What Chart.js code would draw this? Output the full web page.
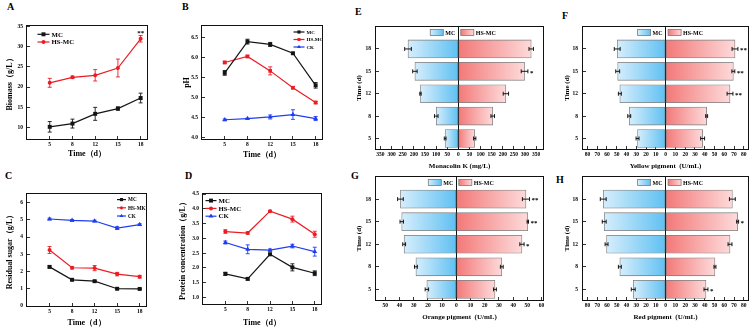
<!DOCTYPE html>
<html><head><meta charset="utf-8">
<script src="https://cdn.jsdelivr.net/npm/chart.js@4.4.0/dist/chart.umd.min.js"></script>
<style>
html,body{margin:0;padding:0;background:#fff;}
body{width:754px;height:330px;position:relative;overflow:hidden;}
canvas{position:absolute;}
.lt{position:absolute;font:bold 10px 'Liberation Serif',serif;line-height:10px;color:#000;}
</style></head><body>
<div class="lt" style="left:7px;top:2px">A</div>
<div class="lt" style="left:182px;top:2px">B</div>
<div class="lt" style="left:5px;top:171px">C</div>
<div class="lt" style="left:185px;top:171px">D</div>
<div class="lt" style="left:355px;top:7px">E</div>
<div class="lt" style="left:562px;top:11px">F</div>
<div class="lt" style="left:351px;top:171px">G</div>
<div class="lt" style="left:556px;top:175px">H</div>
<canvas id="cA" width="151" height="140" style="left:0px;top:22px"></canvas>
<canvas id="cB" width="144" height="140" style="left:182px;top:22px"></canvas>
<canvas id="cC" width="150" height="140" style="left:0px;top:190px"></canvas>
<canvas id="cD" width="147" height="140" style="left:178px;top:190px"></canvas>
<canvas id="cE" width="191" height="147" style="left:354px;top:25px"></canvas>
<canvas id="cF" width="189" height="147" style="left:561px;top:25px"></canvas>
<canvas id="cG" width="191" height="148" style="left:354px;top:175px"></canvas>
<canvas id="cH" width="189" height="148" style="left:561px;top:175px"></canvas>
<script>
// ---------- data ----------
const days = ['5', '8', '12', '15', '18'];

const biomassMC = [10.2, 11.0, 13.4, 14.7, 17.3];
const biomassMCErr = [1.3, 1.1, 1.6, 0.4, 1.2];
const biomassHS = [21.05, 22.4, 22.9, 24.7, 31.9];
const biomassHSErr = [1.1, 0.3, 1.4, 2.2, 0.8];
const biomassHSStars = ['', '', '', '', '**'];
const biomassTicks = [10, 15, 20, 25, 30, 35];

const phMC = [5.61, 6.39, 6.32, 6.10, 5.30];
const phMCErr = [0.06, 0.06, 0.05, 0.02, 0.07];
const phHS = [5.87, 6.02, 5.66, 5.24, 4.87];
const phHSErr = [0.03, 0.03, 0.10, 0.03, 0.03];
const phCK = [4.44, 4.47, 4.51, 4.57, 4.47];
const phCKErr = [0.02, 0.01, 0.05, 0.12, 0.05];
const phTicks = [4.0, 4.5, 5.0, 5.5, 6.0, 6.5];

const sugarMC = [2.27, 1.52, 1.44, 1.00, 0.99];
const sugarMCErr = [0.06, 0.04, 0.04, 0.03, 0.03];
const sugarHS = [3.25, 2.22, 2.20, 1.85, 1.70];
const sugarHSErr = [0.20, 0.07, 0.15, 0.10, 0.08];
const sugarCK = [5.05, 4.97, 4.93, 4.52, 4.72];
const sugarCKErr = [0.05, 0.05, 0.05, 0.08, 0.05];
const sugarTicks = [0, 1, 2, 3, 4, 5, 6];

const proteinMC = [1.80, 1.63, 2.46, 2.02, 1.82];
const proteinMCErr = [0.05, 0.04, 0.04, 0.12, 0.08];
const proteinHS = [3.23, 3.18, 3.92, 3.65, 3.14];
const proteinHSErr = [0.06, 0.04, 0.03, 0.10, 0.10];
const proteinCK = [2.86, 2.63, 2.60, 2.74, 2.55];
const proteinCKErr = [0.05, 0.15, 0.04, 0.06, 0.15];
const proteinTicks = [1.0, 1.5, 2.0, 2.5, 3.0, 3.5, 4.0, 4.5];

const monacolinMC = [59, 99, 170, 195, 226];
const monacolinMCErr = [4, 8, 3, 10, 15];
const monacolinHS = [74, 155, 214, 298, 328];
const monacolinHSErr = [5, 8, 12, 15, 10];
const monacolinHSStars = ['', '', '', '*', ''];
const monacolinTicks = [-350, -300, -250, -200, -150, -100, -50, 0, 50, 100, 150, 200, 250, 300, 350];

const yellowMC = [28.7, 37.2, 46.8, 49.0, 49.5];
const yellowMCErr = [1.5, 1.5, 1.5, 2, 3];
const yellowHS = [37.9, 42.0, 65.9, 69.3, 71.0];
const yellowHSErr = [2, 1, 3, 1.5, 3];
const yellowHSStars = ['', '', '**', '**', '**'];
const yellowTicks = [-80, -70, -60, -50, -40, -30, -20, -10, 0, 10, 20, 30, 40, 50, 60, 70, 80];

const orangeMC = [20.7, 28.4, 36.7, 38.4, 39.3];
const orangeMCErr = [1.2, 1, 1, 1.2, 2];
const orangeHS = [27.2, 32.0, 46.2, 50.3, 49.0];
const orangeHSErr = [1, 1, 1.5, 0.5, 2.5];
const orangeHSStars = ['', '', '*', '**', '**'];
const orangeTicks = [-50, -40, -30, -20, -10, 0, 10, 20, 30, 40, 50, 60];

const redMC = [33.1, 46.8, 60.4, 62.8, 63.8];
const redMCErr = [2, 1.5, 1.5, 2, 3];
const redHS = [41.3, 50.5, 65.9, 73.7, 68.3];
const redHSErr = [2, 1, 2, 1, 3];
const redHSStars = ['*', '', '', '*', ''];
const redTicks = [-80, -70, -60, -50, -40, -30, -20, -10, 0, 10, 20, 30, 40, 50, 60, 70, 80];

// ---------- style ----------
const SERIF = "'Liberation Serif', 'Times New Roman', serif";
const BLACK = '#151515', RED = '#ec1c24', BLUE = '#1f3df2';
const BLUE_DARK = '#5fc0f2', BLUE_LIGHT = '#d6eefc';
const RED_DARK = '#f37878', RED_LIGHT = '#fddada';
Chart.defaults.font.family = SERIF;
Chart.defaults.color = '#000';

function drawMarker(ctx, style, x, y, r, color) {
  ctx.fillStyle = color; ctx.beginPath();
  if (style === 'rect') { const s = r * Math.SQRT1_2; ctx.rect(x - s, y - s, 2 * s, 2 * s); }
  else if (style === 'triangle') { ctx.moveTo(x, y - r); ctx.lineTo(x + r * 0.866, y + r * 0.5); ctx.lineTo(x - r * 0.866, y + r * 0.5); ctx.closePath(); }
  else ctx.arc(x, y, r, 0, Math.PI * 2);
  ctx.fill();
}

const decor = {
  id: 'decor',
  afterDatasetsDraw(chart) {
    const {ctx, scales} = chart;
    const horiz = chart.options.indexAxis === 'y';
    const vs = horiz ? scales.x : scales.y, is = horiz ? scales.y : scales.x;
    ctx.save();
    chart.data.datasets.forEach(ds => {
      if (!ds.errors) return;
      ds.data.forEach((pt, i) => {
        const v = horiz ? pt.x : pt.y, idx = horiz ? pt.y : pt.x;
        const e = ds.errors[i];
        const c = is.getPixelForValue(idx);
        const sgn = v < 0 ? -1 : 1;
        const p1 = vs.getPixelForValue(v - e), p2 = vs.getPixelForValue(v + e);
        ctx.strokeStyle = ds.errColor; ctx.lineWidth = 0.9;
        if (e > 0) {
          ctx.beginPath();
          if (horiz) {
            ctx.moveTo(p1, c); ctx.lineTo(p2, c);
            ctx.moveTo(p1, c - 2); ctx.lineTo(p1, c + 2);
            ctx.moveTo(p2, c - 2); ctx.lineTo(p2, c + 2);
          } else {
            ctx.moveTo(c, p1); ctx.lineTo(c, p2);
            ctx.moveTo(c - 2, p1); ctx.lineTo(c + 2, p1);
            ctx.moveTo(c - 2, p2); ctx.lineTo(c + 2, p2);
          }
          ctx.stroke();
        }
        const star = ds.stars && ds.stars[i];
        if (star) {
          ctx.fillStyle = '#000'; ctx.font = 'bold 7px ' + SERIF;
          if (horiz) {
            ctx.textAlign = 'left'; ctx.textBaseline = 'middle';
            ctx.fillText(star, vs.getPixelForValue(v + sgn * e) + 2, c + 1.5);
          } else {
            ctx.textAlign = 'center'; ctx.textBaseline = 'alphabetic';
            ctx.fillText(star, c, vs.getPixelForValue(v + e) - 0.5);
          }
        }
      });
    });
    ctx.restore();
  },
  afterDraw(chart, args, o) {
    const {ctx, chartArea: a, scales} = chart;
    ctx.save();
    ctx.strokeStyle = '#111'; ctx.lineWidth = 1;
    ctx.strokeRect(a.left - 0.5, a.top - 0.5, a.right - a.left + 1, a.bottom - a.top + 1);
    const lg = o.legend;
    if (lg) {
      ctx.font = 'bold ' + lg.size + 'px ' + SERIF;
      ctx.textBaseline = 'middle'; ctx.textAlign = 'left';
      if (lg.type === 'line') {
        chart.data.datasets.forEach((ds, k) => {
          const x = a.left + lg.x, y = a.top + lg.y + k * lg.dy;
          ctx.strokeStyle = ds.borderColor; ctx.lineWidth = 1.2;
          ctx.beginPath(); ctx.moveTo(x, y); ctx.lineTo(x + lg.len, y); ctx.stroke();
          drawMarker(ctx, ds.pointStyle, x + lg.len / 2, y, ds.pointRadius * lg.mk, ds.borderColor);
          ctx.fillStyle = '#000'; ctx.fillText(ds.label, x + lg.len + 2, y + 0.5);
        });
      } else {
        const cx = scales.x.getPixelForValue(0), y = a.top + lg.y;
        const d0 = chart.data.datasets[0], d1 = chart.data.datasets[1];
        const w0 = ctx.measureText(d0.label).width;
        const tx = cx - 3 - w0;
        ctx.fillStyle = '#000'; ctx.fillText(d0.label, tx, y + 0.5);
        const bx = tx - 2 - 13;
        let g = ctx.createLinearGradient(bx, 0, bx + 13, 0);
        g.addColorStop(0, BLUE_LIGHT); g.addColorStop(1, BLUE_DARK);
        ctx.fillStyle = g; ctx.fillRect(bx, y - 3, 13, 6);
        ctx.strokeStyle = '#7a7a7a'; ctx.lineWidth = 0.8; ctx.strokeRect(bx, y - 3, 13, 6);
        const rb = cx + 2.5;
        g = ctx.createLinearGradient(rb, 0, rb + 13, 0);
        g.addColorStop(0, RED_DARK); g.addColorStop(1, RED_LIGHT);
        ctx.fillStyle = g; ctx.fillRect(rb, y - 3, 13, 6);
        ctx.strokeRect(rb, y - 3, 13, 6);
        ctx.fillStyle = '#000'; ctx.fillText(d1.label, rb + 15, y + 0.5);
      }
    }
    ctx.restore();
  }
};

const tickFont = {size: 5.5, weight: 'bold', family: SERIF};

function lineSet(label, vals, errs, color, style, radius, stars) {
  return {
    label, data: vals.map((v, i) => ({x: i, y: v})), errors: errs, stars, errColor: color,
    borderColor: color, backgroundColor: color, borderWidth: 1.2, tension: 0,
    pointStyle: style, pointRadius: radius, pointBorderWidth: 0
  };
}

function lineChart(id, c) {
  return new Chart(document.getElementById(id), {
    type: 'line',
    data: {datasets: c.sets},
    plugins: [decor],
    options: {
      responsive: false, animation: false, devicePixelRatio: 1, events: [],
      layout: {padding: {top: 2, right: 2, left: 0, bottom: 0}},
      plugins: {legend: {display: false}, tooltip: {enabled: false}, decor: {legend: c.legend}},
      scales: {
        x: {
          type: 'linear', min: -1, max: 4.28, offset: false,
          afterBuildTicks: s => { s.ticks = days.map((d, i) => ({value: i})); },
          ticks: {callback: v => days[v], font: tickFont, color: '#000', padding: 5, maxRotation: 0, autoSkip: false},
          grid: {offset: false, drawOnChartArea: false, tickLength: -3, tickColor: '#000', tickWidth: 0.8},
          border: {display: false},
          title: {display: true, text: 'Time（d）', color: '#000', font: {size: 8, weight: 'bold', family: SERIF}, padding: {top: 0, bottom: c.xtPad}},
          afterFit: s => { s.height = c.xh; s.paddingLeft = 0; s.paddingRight = 0; }
        },
        y: {
          type: 'linear', min: c.ymin, max: c.ymax,
          afterBuildTicks: s => { s.ticks = c.yticks.map(v => ({value: v})); },
          ticks: {callback: v => v.toFixed(c.dec), font: tickFont, color: '#000', padding: 7},
          grid: {drawOnChartArea: false, tickLength: -3, tickColor: '#000', tickWidth: 0.8},
          border: {display: false},
          title: {display: true, text: c.ytitle, color: '#000', font: {size: 8, weight: 'bold', family: SERIF}, padding: {top: c.ytPad, bottom: 0}},
          afterFit: s => { s.width = c.yw; s.paddingTop = 0; s.paddingBottom = 0; }
        }
      }
    }
  });
}

function barGrad(dark, light) {
  return (ctx) => {
    const chart = ctx.chart;
    if (!chart.chartArea || ctx.type !== 'data') return dark;
    const xs = chart.scales.x;
    const x0 = xs.getPixelForValue(0), x1 = xs.getPixelForValue(ctx.parsed.x);
    if (!isFinite(x0) || !isFinite(x1) || x0 === x1) return dark;
    const g = chart.ctx.createLinearGradient(x0, 0, x1, 0);
    g.addColorStop(0, dark); g.addColorStop(1, light);
    return g;
  };
}

function barSet(label, vals, errs, sign, dark, light, stars) {
  return {
    label, data: vals.map((v, i) => ({x: sign * v, y: i})), errors: errs, stars, errColor: '#000',
    backgroundColor: barGrad(dark, light), borderColor: '#7d7d7d', borderWidth: 0.8,
    borderSkipped: false, barThickness: 18, grouped: false
  };
}

function pyramid(id, c) {
  return new Chart(document.getElementById(id), {
    type: 'bar',
    data: {datasets: [
      barSet('MC', c.mc, c.mcErr, -1, BLUE_DARK, BLUE_LIGHT, null),
      barSet('HS-MC', c.hs, c.hsErr, 1, RED_DARK, RED_LIGHT, c.stars)
    ]},
    plugins: [decor],
    options: {
      indexAxis: 'y', responsive: false, animation: false, devicePixelRatio: 1, events: [],
      layout: {padding: {top: 2, right: 2, left: 0, bottom: 0}},
      plugins: {legend: {display: false}, tooltip: {enabled: false}, decor: {legend: {type: 'box', y: 5.5, size: 6}}},
      scales: {
        x: {
          type: 'linear', min: c.xmin, max: c.xmax, offset: false,
          afterBuildTicks: s => { s.ticks = c.xticks.map(v => ({value: v})); },
          ticks: {callback: v => String(Math.abs(v)), font: tickFont, color: '#000', padding: 5, maxRotation: 0, autoSkip: false},
          grid: {offset: false, drawOnChartArea: true, color: g => (g.tick && g.tick.value === 0) ? '#111' : 'rgba(0,0,0,0)', lineWidth: 1, tickLength: -3, tickColor: '#000', tickWidth: 0.8},
          border: {display: false},
          title: {display: true, text: c.xtitle, color: '#000', font: {size: 7, weight: 'bold', family: SERIF}, padding: {top: 0, bottom: 2}},
          afterFit: s => { s.height = c.xh; s.paddingLeft = 0; s.paddingRight = 0; }
        },
        y: {
          type: 'linear', min: -0.47, max: 4.98, offset: false,
          afterBuildTicks: s => { s.ticks = days.map((d, i) => ({value: i})); },
          ticks: {callback: v => days[v], font: tickFont, color: '#000', padding: 8},
          grid: {offset: false, drawOnChartArea: false, tickLength: -3, tickColor: '#000', tickWidth: 0.8},
          border: {display: false},
          title: {display: true, text: 'Time (d)', color: '#000', font: {size: 7, weight: 'bold', family: SERIF}, padding: {top: c.ytPad, bottom: 0}},
          afterFit: s => { s.width = c.yw; s.paddingTop = 0; s.paddingBottom = 0; }
        }
      }
    }
  });
}

// ---------- panels ----------
lineChart('cA', {
  sets: [
    lineSet('MC', biomassMC, biomassMCErr, BLACK, 'rect', 2.8, null),
    lineSet('HS-MC', biomassHS, biomassHSErr, RED, 'circle', 2, biomassHSStars)
  ],
  ymin: 7.2, ymax: 35.05, yticks: biomassTicks, dec: 0, ytitle: 'Biomass（g/L）',
  xh: 23, yw: 27, xtPad: 3, ytPad: 5,
  legend: {type: 'line', x: 10.5, y: 8.3, dy: 7.7, len: 12, size: 6.8, mk: 1}
});
lineChart('cB', {
  sets: [
    lineSet('MC', phMC, phMCErr, BLACK, 'rect', 2.8, null),
    lineSet('HS-MC', phHS, phHSErr, RED, 'rect', 2.6, null),
    lineSet('CK', phCK, phCKErr, BLUE, 'triangle', 2.8, null)
  ],
  ymin: 3.96, ymax: 6.78, yticks: phTicks, dec: 1, ytitle: 'pH',
  xh: 23, yw: 20, xtPad: 2, ytPad: 0,
  legend: {type: 'line', x: 91.5, y: 6, dy: 7.5, len: 11, size: 5, mk: 0.8}
});
lineChart('cC', {
  sets: [
    lineSet('MC', sugarMC, sugarMCErr, BLACK, 'rect', 2.8, null),
    lineSet('HS-MK', sugarHS, sugarHSErr, RED, 'circle', 2, null),
    lineSet('CK', sugarCK, sugarCKErr, BLUE, 'triangle', 2.8, null)
  ],
  ymin: 0, ymax: 6.5, yticks: sugarTicks, dec: 0, ytitle: 'Residual sugar（g/L）',
  xh: 24, yw: 27, xtPad: 2, ytPad: 5,
  legend: {type: 'line', x: 90, y: 5.6, dy: 8.2, len: 9, size: 5.2, mk: 0.8}
});
lineChart('cD', {
  sets: [
    lineSet('MC', proteinMC, proteinMCErr, BLACK, 'rect', 2.8, null),
    lineSet('HS-MC', proteinHS, proteinHSErr, RED, 'circle', 2, null),
    lineSet('CK', proteinCK, proteinCKErr, BLUE, 'triangle', 2.8, null)
  ],
  ymin: 0.78, ymax: 4.5, yticks: proteinTicks, dec: 1, ytitle: 'Protein concentration（g/L）',
  xh: 26, yw: 25, xtPad: 2, ytPad: 0.5,
  legend: {type: 'line', x: 2.5, y: 6.6, dy: 7.8, len: 11, size: 6.8, mk: 1}
});

pyramid('cE', {mc: monacolinMC, mcErr: monacolinMCErr, hs: monacolinHS, hsErr: monacolinHSErr, stars: monacolinHSStars,
  xmin: -370, xmax: 381, xticks: monacolinTicks, xtitle: 'Monacolin K (mg/L)', xh: 23, yw: 22, ytPad: 1.3});
pyramid('cF', {mc: yellowMC, mcErr: yellowMCErr, hs: yellowHS, hsErr: yellowHSErr, stars: yellowHSStars,
  xmin: -84.5, xmax: 84.3, xticks: yellowTicks, xtitle: 'Yellow pigment  (U/mL)', xh: 23, yw: 22, ytPad: 2.3});
pyramid('cG', {mc: orangeMC, mcErr: orangeMCErr, hs: orangeHS, hsErr: orangeHSErr, stars: orangeHSStars,
  xmin: -56.5, xmax: 61, xticks: orangeTicks, xtitle: 'Orange pigment  (U/mL)', xh: 23, yw: 22, ytPad: 0.5});
pyramid('cH', {mc: redMC, mcErr: redMCErr, hs: redHS, hsErr: redHSErr, stars: redHSStars,
  xmin: -84.5, xmax: 84.3, xticks: redTicks, xtitle: 'Red pigment  (U/mL)', xh: 23, yw: 22, ytPad: 2.3});
</script>
</body></html>
